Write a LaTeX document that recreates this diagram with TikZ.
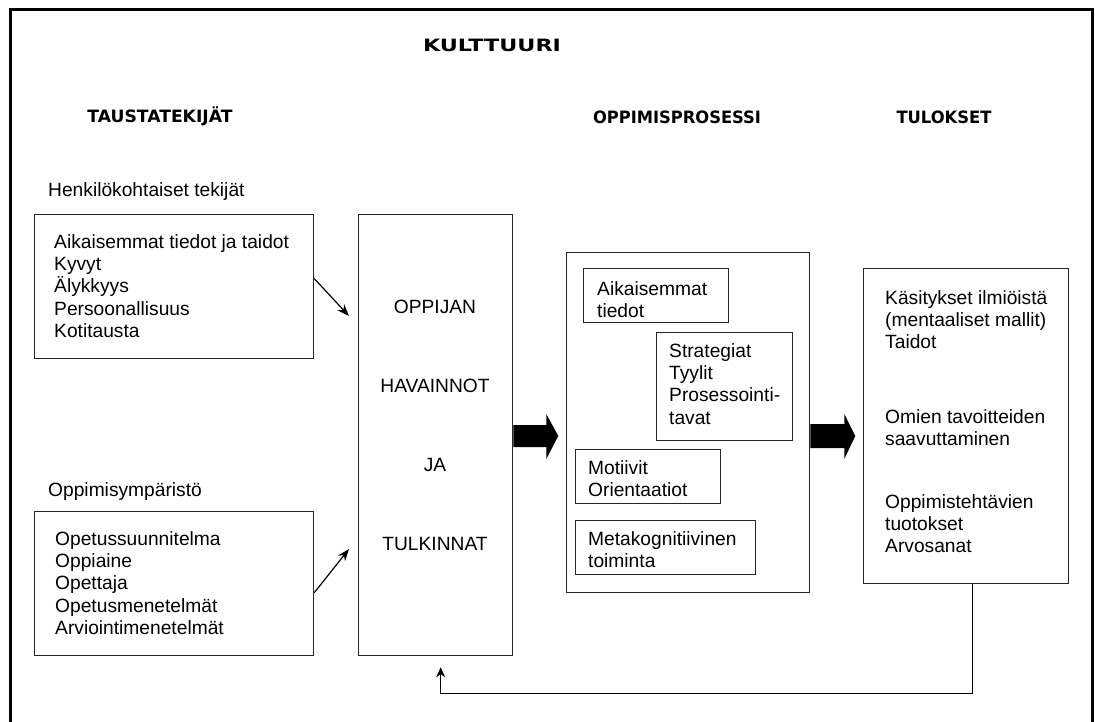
\documentclass[tikz,border=0pt]{standalone}
\usepackage{fontspec}
\usepackage{graphicx}
\setmainfont{Liberation Sans}
\newfontfamily\headfont{DejaVu Sans}
\usetikzlibrary{arrows.meta}

% left-aligned block of lines whose baseline is the first line's baseline
\newcommand\rows[1]{\vtop{\baselineskip=22.4pt\halign{##\hfil\cr#1\crcr}}}
% bold heading stretched to a given width
\newcommand\hdr[2]{\resizebox{#1pt}{\height}{\headfont\bfseries #2}}

\tikzset{
  box/.style={draw=black!85, line width=1.3pt, anchor=north west, inner sep=0pt},
  txt/.style={font=\fontsize{19.2}{22.4}\selectfont, inner sep=0pt},
  head/.style={font=\fontsize{17}{19}\selectfont, inner sep=0pt},
  thinarrow/.style={line width=1.2pt, -{Stealth[length=12pt,width=9pt]}},
  backarrow/.style={line width=1.2pt, -{Stealth[length=10pt,width=9pt]}},
  blockarrow/.style={fill=black}
}

\begin{document}
\begin{tikzpicture}[x=1pt, y=-1pt]
\useasboundingbox (0,0) rectangle (1095,722);

% outer frame, open at the bottom
\draw[line width=3pt] (10,722) -- (10,10) -- (1092,10) -- (1092,722);

% headings
\node[head] (kult) at (492,45) {\hdr{138}{KULTTUURI}};
\node[head] (taus) at (160,116) {\hdr{145}{TAUSTATEKIJÄT}};
\node[head] (opps) at (677,117) {\hdr{168}{OPPIMISPROSESSI}};
\node[head] (tulo) at (944,117) {\hdr{95}{TULOKSET}};

% background factors
\node[txt, anchor=base west] (henk) at (48,197) {Henkilökohtaiset tekijät};
\node[box, minimum width=279pt, minimum height=144pt] (b1) at (34,214) {};
\node[txt, anchor=base west] (b1t) at (54,248)
  {\rows{Aikaisemmat tiedot ja taidot\cr Kyvyt\cr Älykkyys\cr Persoonallisuus\cr Kotitausta}};

\node[txt, anchor=base west] (ymp) at (48,496) {Oppimisympäristö};
\node[box, minimum width=279pt, minimum height=144pt] (b2) at (34,511) {};
\node[txt, anchor=base west] (b2t) at (55,545)
  {\rows{Opetussuunnitelma\cr Oppiaine\cr Opettaja\cr Opetusmenetelmät\cr Arviointimenetelmät}};

% learner's perceptions
\node[box, minimum width=154pt, minimum height=441pt] (c) at (358,214) {};
\node[txt, anchor=base] (c1) at (435,313) {OPPIJAN};
\node[txt, anchor=base] (c2) at (435,392) {HAVAINNOT};
\node[txt, anchor=base] (c3) at (435,471) {JA};
\node[txt, anchor=base] (c4) at (435,550) {TULKINNAT};

% learning process
\node[box, minimum width=243pt, minimum height=340pt] (p) at (566,252) {};
\node[box, minimum width=145pt, minimum height=54pt] (pa) at (583,268) {};
\node[txt, anchor=base west] (pat) at (597,295) {\rows{Aikaisemmat\cr tiedot}};
\node[box, minimum width=136pt, minimum height=108pt] (pb) at (656,332) {};
\node[txt, anchor=base west] (pbt) at (669,357) {\rows{Strategiat\cr Tyylit\cr Prosessointi-\cr tavat}};
\node[box, minimum width=145pt, minimum height=54pt] (pc) at (575,449) {};
\node[txt, anchor=base west] (pct) at (588,474) {\rows{Motiivit\cr Orientaatiot}};
\node[box, minimum width=180pt, minimum height=54pt] (pd) at (575,520) {};
\node[txt, anchor=base west] (pdt) at (588,545) {\rows{Metakognitiivinen\cr toiminta}};

% outcomes
\node[box, minimum width=205pt, minimum height=315pt] (r) at (863,268) {};
\node[txt, anchor=base west] (r1) at (885,304) {\rows{Käsitykset ilmiöistä\cr (mentaaliset mallit)\cr Taidot}};
\node[txt, anchor=base west] (r2) at (885,423) {\rows{Omien tavoitteiden\cr saavuttaminen}};
\node[txt, anchor=base west] (r3) at (885,508) {\rows{Oppimistehtävien\cr tuotokset\cr Arvosanat}};

% thin arrows into the perceptions box
\coordinate (a1e) at (349,316);
\coordinate (a2e) at (349,549);
\draw[thinarrow] ([yshift=8pt]b1.east) -- (a1e);
\draw[thinarrow] ([yshift=-9pt]b2.east) -- (a2e);

% block arrows
\fill[blockarrow] (c.east |- 0,436) ++(0,-11) -- ++(33,0) -- ++(0,-11) -- ++(12,22)
  -- ++(-12,23) -- ++(0,-12) -- ++(-33,0) -- cycle;
\fill[blockarrow] (p.east |- 0,436) ++(0,-12) -- ++(34,0) -- ++(0,-10) -- ++(11,22)
  -- ++(-11,23) -- ++(0,-11) -- ++(-34,0) -- cycle;

% feedback loop
\coordinate (fb) at ([xshift=5pt,yshift=-11pt]c.south);
\draw[backarrow] ([xshift=6.5pt]r.south) -- ++(0,109) -| (fb);
\end{tikzpicture}
\end{document}
